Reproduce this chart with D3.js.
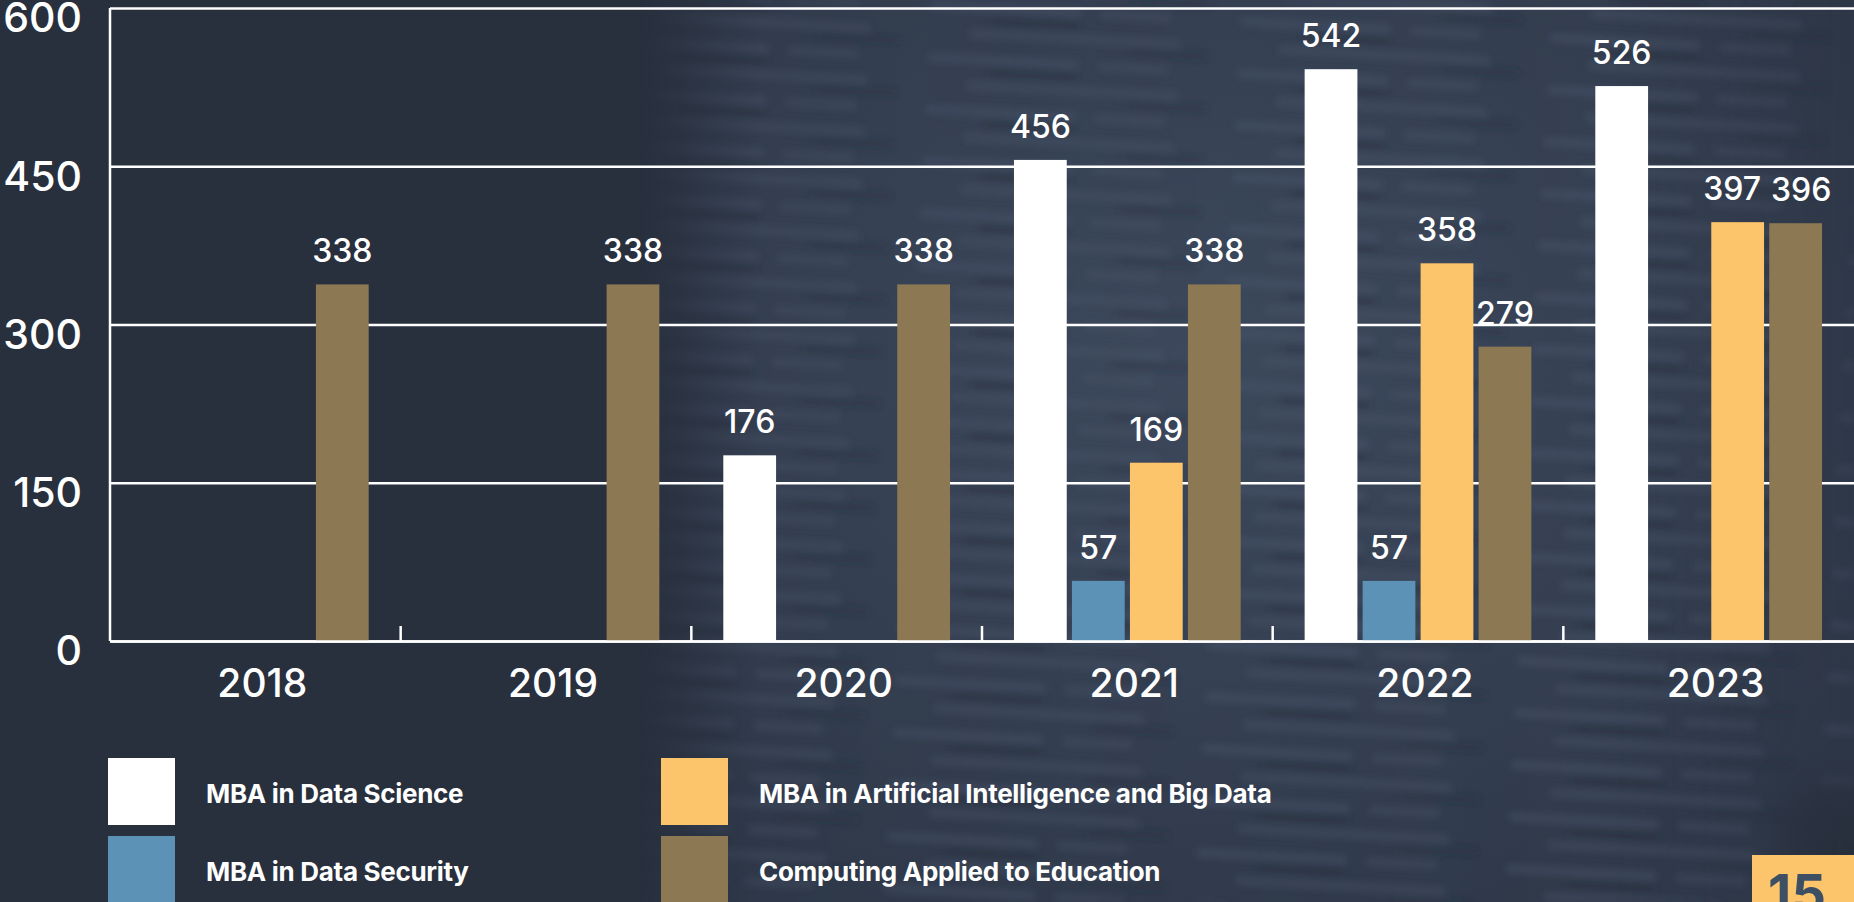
<!DOCTYPE html>
<html>
<head>
<meta charset="utf-8">
<script src="https://cdn.jsdelivr.net/npm/d3@7"></script>
<style>
  html, body { margin: 0; padding: 0; background: #282f3d; overflow: hidden; }
  svg { display: block; }
</style>
</head>
<body>
<div class="canvas"></div>
<script>
// データ
var years = ["2018", "2019", "2020", "2021", "2022", "2023"];
var seriesNames = ["MBA in Data Science", "MBA in Data Security", "MBA in Artificial Intelligence and Big Data", "Computing Applied to Education"];
var dataScience   = [null, null, 176, 456, 542, 526];
var dataSecurity  = [null, null, null, 57, 57, null];
var aiBigData     = [null, null, null, 169, 358, 397];
var computingEdu  = [338, 338, 338, 338, 279, 396];
var yTicks = [0, 150, 300, 450, 600];
var colors = ["#ffffff", "#5b92b5", "#fdc56b", "#8c7853"];
var pageNumber = "15";

var allSeries = [dataScience, dataSecurity, aiBigData, computingEdu];

var width = 1854, height = 902;
var svg = d3.select(".canvas").append("svg")
    .attr("width", width)
    .attr("height", height);

// 背景
var defs = svg.append("defs");
var blur = defs.append("filter").attr("id", "blur").attr("x", "-10%").attr("y", "-10%").attr("width", "120%").attr("height", "120%");
blur.append("feGaussianBlur").attr("stdDeviation", 3.5);
var bigBlur = defs.append("filter").attr("id", "bigblur").attr("x", "-50%").attr("y", "-50%").attr("width", "200%").attr("height", "200%");
bigBlur.append("feGaussianBlur").attr("stdDeviation", 25);

var fade = defs.append("linearGradient").attr("id", "fade").attr("x1", 0).attr("x2", 1).attr("y1", 0).attr("y2", 0);
fade.append("stop").attr("offset", "0%").attr("stop-color", "#fff").attr("stop-opacity", 0);
fade.append("stop").attr("offset", "10%").attr("stop-color", "#fff").attr("stop-opacity", 0.9);
fade.append("stop").attr("offset", "80%").attr("stop-color", "#fff").attr("stop-opacity", 1);
fade.append("stop").attr("offset", "100%").attr("stop-color", "#fff").attr("stop-opacity", 0.7);
var mask = defs.append("mask").attr("id", "bgmask");
mask.append("rect").attr("x", 640).attr("y", 0).attr("width", width - 640).attr("height", height).attr("fill", "url(#fade)");
mask.append("rect").attr("x", 1790).attr("y", 790).attr("width", 120).attr("height", 140).attr("fill", "#000").attr("filter", "url(#bigblur)");

var glow = defs.append("radialGradient").attr("id", "glow").attr("cx", "45%").attr("cy", "40%").attr("r", "65%");
glow.append("stop").attr("offset", "0%").attr("stop-color", "#3e4a5e");
glow.append("stop").attr("offset", "100%").attr("stop-color", "#303a4b");

var stripes = defs.append("pattern").attr("id", "stripes").attr("patternUnits", "userSpaceOnUse")
    .attr("width", 310).attr("height", 52).attr("patternTransform", "rotate(3)");
stripes.append("rect").attr("x", 0).attr("y", 4).attr("width", 150).attr("height", 9).attr("fill", "#4d5a70").attr("opacity", 0.4);
stripes.append("rect").attr("x", 170).attr("y", 5).attr("width", 70).attr("height", 8).attr("fill", "#4d5a70").attr("opacity", 0.35);
stripes.append("rect").attr("x", 40).attr("y", 30).attr("width", 210).attr("height", 9).attr("fill", "#4d5a70").attr("opacity", 0.35);
stripes.append("rect").attr("x", 60).attr("y", 17).attr("width", 90).attr("height", 7).attr("fill", "#222a37").attr("opacity", 0.35);
stripes.append("rect").attr("x", 200).attr("y", 42).attr("width", 80).attr("height", 7).attr("fill", "#222a37").attr("opacity", 0.3);

svg.append("rect").attr("width", width).attr("height", height).attr("fill", "#282f3d");
var bg = svg.append("g").attr("mask", "url(#bgmask)");
bg.append("rect").attr("x", 640).attr("width", width - 640).attr("height", height).attr("fill", "url(#glow)");
bg.append("rect").attr("x", 640).attr("width", width - 640).attr("height", height).attr("fill", "url(#stripes)").attr("filter", "url(#blur)");

// スケール
var plotLeft = 110, plotRight = width, plotTop = 8, plotBottom = 641;
var x0 = d3.scaleBand().domain(years).range([plotLeft, plotRight]).padding(0);
var x1 = d3.scaleBand().domain(seriesNames)
    .range([x0.bandwidth() * 0.11, x0.bandwidth() * 0.89])
    .paddingInner(0.09);
var y = d3.scaleLinear().domain([0, 600]).range([plotBottom, plotTop]);

// グリッド線 + y軸ラベル
var yAxis = svg.append("g")
    .attr("transform", "translate(" + plotLeft + ",0)")
    .call(d3.axisLeft(y).tickValues(yTicks).tickSize(-(plotRight - plotLeft)).tickPadding(28));
yAxis.select(".domain").remove();
yAxis.selectAll(".tick line").attr("stroke", "#ffffff").attr("stroke-width", 2.5);
yAxis.selectAll(".tick text")
    .attr("fill", "#ffffff")
    .attr("dy", "0.9em")
    .attr("y", -13)
    .style("font-family", "Inter, 'Open Sans', sans-serif")
    .style("font-weight", 500)
    .style("font-size", "41px");

// y軸の線
svg.append("line")
    .attr("x1", plotLeft).attr("x2", plotLeft)
    .attr("y1", plotTop).attr("y2", plotBottom)
    .attr("stroke", "#ffffff").attr("stroke-width", 2.5);

// 棒
var table = [];
years.forEach(function(yr, i) {
  seriesNames.forEach(function(s, j) {
    if (allSeries[j][i] != null) table.push({year: yr, series: s, value: allSeries[j][i], color: colors[j]});
  });
});

var bars = svg.append("g").selectAll("g").data(table).enter().append("g");
bars.append("rect")
    .attr("x", function(d) { return x0(d.year) + x1(d.series); })
    .attr("y", function(d) { return y(d.value); })
    .attr("width", x1.bandwidth())
    .attr("height", function(d) { return y(0) - y(d.value); })
    .attr("fill", function(d) { return d.color; });

var labels = bars.append("text")
    .text(function(d) { return d.value; })
    .attr("x", function(d) { return x0(d.year) + x1(d.series) + x1.bandwidth() / 2; })
    .attr("y", function(d) { return y(d.value) - 22; })
    .attr("text-anchor", "middle")
    .attr("fill", "#ffffff")
    .style("font-family", "Inter, 'Open Sans', sans-serif")
    .style("font-weight", 500)
    .style("font-size", "32px");

// 隣り合うラベルが重なったら左右に離す
var nodes = labels.nodes();
for (var i = 1; i < nodes.length; i++) {
  var a = nodes[i - 1].getBBox(), b = nodes[i].getBBox();
  var da = d3.select(nodes[i - 1]).datum(), db = d3.select(nodes[i]).datum();
  if (da.year != db.year) continue;
  var vOverlap = a.y < b.y + b.height && b.y < a.y + a.height;
  var hOverlap = a.x + a.width + 10 - b.x;
  if (vOverlap && hOverlap > 0) {
    d3.select(nodes[i - 1]).attr("x", +d3.select(nodes[i - 1]).attr("x") - hOverlap / 2);
    d3.select(nodes[i]).attr("x", +d3.select(nodes[i]).attr("x") + hOverlap / 2);
  }
}

// x軸
var xAxis = svg.append("g")
    .attr("transform", "translate(0," + plotBottom + ")")
    .call(d3.axisBottom(x0).tickSize(0).tickPadding(28));
xAxis.select(".domain").attr("stroke", "#ffffff").attr("stroke-width", 2.5);
xAxis.selectAll(".tick text")
    .attr("fill", "#ffffff")
    .attr("dx", 7)
    .style("font-family", "Inter, 'Open Sans', sans-serif")
    .style("font-weight", 500)
    .style("font-size", "39px");

// 年の区切りの目盛り
svg.append("g").selectAll("line")
    .data(years.slice(0, -1))
    .enter().append("line")
    .attr("x1", function(d) { return x0(d) + x0.step(); })
    .attr("x2", function(d) { return x0(d) + x0.step(); })
    .attr("y1", plotBottom - 15)
    .attr("y2", plotBottom)
    .attr("stroke", "#ffffff").attr("stroke-width", 2.5);

// 凡例
var legendPos = [[108, 758], [108, 836], [661, 758], [661, 836]];
var legendOrder = [0, 1, 2, 3];
var legend = svg.append("g").selectAll("g")
    .data(legendOrder)
    .enter().append("g")
    .attr("transform", function(d) { return "translate(" + legendPos[d][0] + "," + legendPos[d][1] + ")"; });
legend.append("rect")
    .attr("width", 67).attr("height", 67)
    .attr("fill", function(d) { return colors[d]; });
legend.append("text")
    .text(function(d) { return seriesNames[d]; })
    .attr("x", 98)
    .attr("y", 45)
    .attr("fill", "#ffffff")
    .style("font-family", "Inter, 'Open Sans', sans-serif")
    .style("font-weight", 700)
    .style("font-size", "26px")
    .style("letter-spacing", "-0.3px");

// ページ番号
svg.append("rect")
    .attr("x", 1752).attr("y", 855)
    .attr("width", 110).attr("height", 60)
    .attr("fill", "#fdc56b");
svg.append("text")
    .text(pageNumber)
    .attr("x", 1797).attr("y", 913)
    .attr("text-anchor", "middle")
    .attr("fill", "#3d4f63")
    .style("font-family", "Inter, sans-serif")
    .style("font-weight", 700)
    .style("font-size", "54px");
</script>
</body>
</html>
